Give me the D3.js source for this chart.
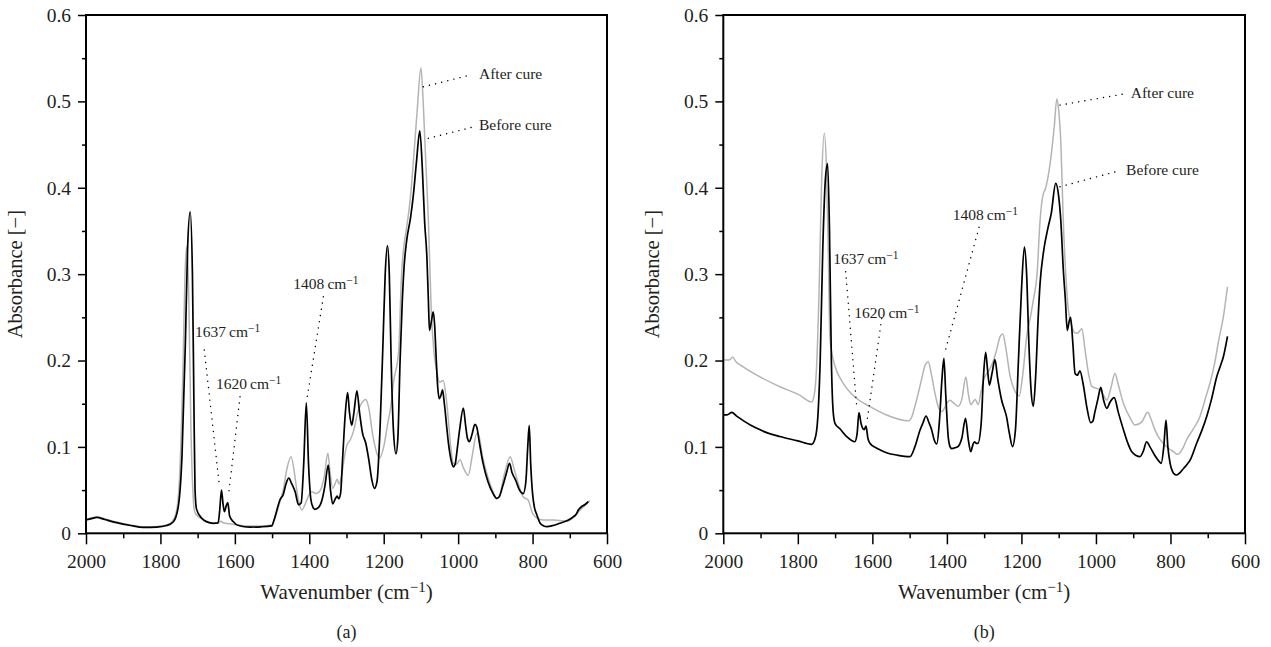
<!DOCTYPE html>
<html><head><meta charset="utf-8">
<script src="https://cdn.jsdelivr.net/npm/d3@7"></script>
<style>body{margin:0;background:#fff}svg{display:block}text{font-family:"Liberation Serif","Times New Roman",serif;fill:#231f20}</style>
</head><body>
<script>
// ---------- DATA ----------
const xTicks = [2000,1800,1600,1400,1200,1000,800,600];
const xMinor = [1900,1700,1500,1300,1100,900,700];
const yTicks = [0,0.1,0.2,0.3,0.4,0.5,0.6];
const yMinor = [0.05,0.15,0.25,0.35,0.45,0.55];

// Panel (a) before cure (black)
const aBeforeWave = [2000,1985,1971,1950,1918,1880,1846,1810,1783,1765,1752,1742,1733,1727,1720,1714,1710,1707,1703,1690,1676,1657,1645,1641,1636,1632,1628,1623,1619,1614,1604,1590,1560,1530,1501,1495,1487,1479,1470,1462,1455,1448,1438,1429,1422,1415,1408,1402,1396,1390,1385,1375,1365,1358,1349,1343,1337,1330,1325,1321,1316,1310,1303,1297,1292,1286,1280,1272,1265,1257,1248,1240,1232,1225,1218,1210,1202,1196,1190,1185,1180,1174,1167,1162,1156,1150,1145,1138,1128,1120,1112,1103,1096,1090,1084,1080,1077,1072,1067,1063,1060,1055,1051,1046,1042,1037,1030,1026,1018,1013,1008,1004,996,986,980,975,970,963,955,950,943,933,920,905,897,890,880,870,862,855,846,835,825,818,813,809,805,800,795,789,780,770,762,745,727,705,691,683,677,668,660,650];
const aBeforeAbs = [0.0154,0.017,0.0185,0.016,0.0123,0.009,0.0068,0.0072,0.009,0.0134,0.031,0.09,0.22,0.33,0.372,0.3,0.15,0.05,0.028,0.018,0.0135,0.0116,0.012,0.025,0.050,0.035,0.025,0.032,0.0354,0.02,0.0134,0.009,0.0072,0.0075,0.0085,0.015,0.027,0.0385,0.045,0.058,0.064,0.058,0.048,0.033,0.035,0.08,0.151,0.08,0.04,0.03,0.0278,0.03,0.04,0.055,0.079,0.05,0.034,0.04,0.043,0.04,0.046,0.09,0.14,0.163,0.14,0.125,0.14,0.165,0.14,0.116,0.104,0.085,0.062,0.052,0.06,0.12,0.22,0.3,0.333,0.3,0.2,0.12,0.092,0.11,0.2,0.27,0.31,0.34,0.365,0.393,0.43,0.466,0.42,0.36,0.32,0.27,0.235,0.245,0.2565,0.24,0.212,0.17,0.156,0.16,0.166,0.15,0.12,0.104,0.083,0.077,0.08,0.092,0.12,0.145,0.125,0.11,0.106,0.114,0.126,0.123,0.105,0.081,0.06,0.045,0.0405,0.042,0.055,0.07,0.081,0.07,0.062,0.05,0.046,0.06,0.1,0.125,0.08,0.046,0.03,0.022,0.012,0.0085,0.0077,0.009,0.0116,0.015,0.019,0.022,0.027,0.031,0.033,0.0366];

// Panel (a) after cure (grey)
const aAfterWave = [2000,1985,1971,1950,1918,1880,1846,1810,1783,1765,1755,1748,1740,1733,1729,1724,1718,1713,1708,1700,1690,1676,1657,1645,1637,1630,1615,1600,1560,1530,1501,1490,1480,1470,1460,1449,1440,1430,1420,1410,1400,1393,1382,1370,1360,1350,1344,1337,1330,1325,1320,1312,1305,1299,1290,1280,1270,1260,1249,1240,1230,1220,1212,1200,1190,1180,1174,1160,1152,1145,1138,1128,1120,1110,1100,1094,1088,1080,1072,1065,1058,1050,1040,1033,1026,1020,1013,1005,995,985,973,962,950,945,935,920,905,897,888,875,860,850,840,825,812,800,785,771,744,720,708,690,672,660,646];
const aAfterAbs = [0.016,0.018,0.019,0.017,0.013,0.0095,0.0075,0.008,0.0095,0.016,0.03,0.07,0.18,0.31,0.332,0.28,0.12,0.05,0.025,0.02,0.017,0.013,0.0115,0.012,0.014,0.012,0.011,0.01,0.0085,0.0085,0.0095,0.02,0.035,0.05,0.075,0.0887,0.07,0.04,0.027,0.035,0.045,0.048,0.046,0.05,0.065,0.0926,0.07,0.052,0.058,0.0625,0.057,0.07,0.09,0.102,0.108,0.12,0.14,0.15,0.155,0.145,0.115,0.095,0.087,0.1,0.125,0.15,0.174,0.21,0.3,0.335,0.355,0.39,0.432,0.49,0.539,0.5,0.44,0.363,0.255,0.21,0.189,0.175,0.177,0.16,0.13,0.1,0.081,0.08,0.085,0.075,0.067,0.09,0.1157,0.114,0.09,0.065,0.047,0.04,0.045,0.07,0.0887,0.075,0.06,0.042,0.0385,0.023,0.017,0.0154,0.0154,0.0145,0.014,0.018,0.027,0.032,0.038];

// Panel (b) before cure (black)
const bBeforeWave = [2000,1990,1977,1965,1955,1930,1910,1880,1848,1800,1763,1755,1748,1740,1733,1726,1720,1715,1710,1705,1700,1687,1669,1647,1641,1636,1630,1622,1617,1612,1606,1590,1579,1560,1535,1499,1486,1472,1464,1456,1448,1441,1434,1427,1420,1413,1408,1403,1396,1390,1387,1378,1369,1360,1350,1343,1336,1330,1326,1321,1317,1308,1302,1296,1291,1286,1279,1271,1264,1253,1240,1232,1224,1216,1208,1200,1192,1186,1180,1174,1168,1162,1155,1150,1141,1128,1120,1108,1100,1094,1088,1082,1077,1072,1068,1062,1056,1050,1043,1034,1024,1014,1008,1003,995,987,980,971,962,951,940,926,915,904,892,882,873,864,855,842,830,825,818,812,807,801,795,788,783,775,765,755,747,730,715,703,690,676,665,658,647];
const bBeforeAbs = [0.137,0.137,0.14,0.136,0.133,0.126,0.1215,0.116,0.112,0.107,0.103,0.108,0.125,0.2,0.33,0.41,0.428,0.35,0.2,0.14,0.127,0.121,0.112,0.106,0.115,0.1396,0.1265,0.12,0.124,0.11,0.104,0.099,0.0965,0.093,0.0906,0.0887,0.1,0.1196,0.128,0.1358,0.128,0.12,0.108,0.1034,0.13,0.18,0.2025,0.16,0.11,0.099,0.098,0.099,0.101,0.11,0.133,0.11,0.0945,0.103,0.106,0.104,0.104,0.127,0.18,0.2095,0.19,0.1716,0.185,0.201,0.18,0.154,0.135,0.115,0.1003,0.12,0.2,0.28,0.3317,0.3,0.22,0.165,0.147,0.18,0.25,0.289,0.325,0.355,0.37,0.405,0.39,0.36,0.3086,0.27,0.235,0.245,0.25,0.22,0.185,0.183,0.188,0.172,0.145,0.128,0.13,0.14,0.155,0.169,0.155,0.1447,0.152,0.157,0.14,0.1196,0.105,0.0945,0.09,0.0887,0.095,0.106,0.1,0.09,0.083,0.081,0.1,0.131,0.1,0.081,0.072,0.068,0.0675,0.07,0.075,0.08,0.085,0.104,0.12,0.135,0.155,0.181,0.195,0.2044,0.228];

// Panel (b) after cure (grey)
const bAfterWave = [2000,1985,1975,1965,1955,1910,1848,1795,1763,1756,1750,1743,1736,1729,1723,1718,1714,1707,1700,1678,1642,1606,1562,1503,1494,1486,1478,1467,1458,1450,1442,1432,1422,1414,1405,1398,1392,1380,1370,1360,1349,1342,1336,1330,1324,1316,1308,1302,1293,1284,1275,1265,1257,1250,1242,1230,1218,1206,1196,1186,1176,1168,1158,1150,1141,1137,1123,1112,1105,1100,1094,1088,1081,1074,1065,1056,1048,1038,1029,1020,1011,1000,989,980,971,960,949,940,926,910,895,877,861,852,842,830,819,801,790,783,775,765,757,740,721,705,694,680,672,658,647];
const bAfterAbs = [0.2006,0.2006,0.2037,0.198,0.195,0.183,0.1697,0.16,0.152,0.16,0.19,0.28,0.41,0.463,0.42,0.32,0.2275,0.205,0.193,0.1736,0.156,0.1466,0.137,0.1303,0.135,0.1466,0.16,0.18,0.195,0.1986,0.185,0.162,0.145,0.1408,0.146,0.152,0.154,0.15,0.147,0.155,0.181,0.16,0.149,0.152,0.155,0.149,0.165,0.177,0.185,0.191,0.2,0.215,0.228,0.2307,0.215,0.181,0.165,0.159,0.185,0.2275,0.25,0.27,0.3,0.362,0.3935,0.397,0.428,0.47,0.5027,0.49,0.45,0.366,0.3,0.2585,0.24,0.232,0.232,0.237,0.2115,0.185,0.17,0.168,0.166,0.16,0.154,0.168,0.185,0.172,0.15,0.135,0.1253,0.129,0.14,0.132,0.12,0.11,0.104,0.097,0.094,0.0914,0.093,0.1,0.108,0.12,0.135,0.158,0.174,0.2,0.22,0.2507,0.2854];

// Annotation labels (anchored in data coordinates)
const annLabels = ["After cure","Before cure","1408","1637","1620"];

// ---------- LAYOUT ----------
const W = 1271, H = 647;
const svg = d3.select("body").append("svg").attr("width", W).attr("height", H);

const panels = [
  {left:86, right:607, tag:"(a)",
   before:[aBeforeWave,aBeforeAbs], after:[aAfterWave,aAfterAbs],
   ann:[
     {t:annLabels[0], tx:944, ty:0.5258, l:[1093.6,0.5169,968.1,0.5304]},
     {t:annLabels[1], tx:944, ty:0.4667, l:[1080.2,0.4572,950.1,0.4714]},
     {t:annLabels[2], cm:true, tx:1443, ty:0.2824, l:[1362.3,0.2738,1406.9,0.1543]},
     {t:annLabels[3], cm:true, tx:1707.1, ty:0.2269, l:[1682.1,0.2122,1641.8,0.0559]},
     {t:annLabels[4], cm:true, tx:1650.7, ty:0.1667, l:[1586.2,0.1581,1617.6,0.0424]}
   ]},
  {left:723.3, right:1245, tag:"(b)",
   before:[bBeforeWave,bBeforeAbs], after:[bAfterWave,bAfterAbs],
   ann:[
     {t:annLabels[0], tx:906.6, ty:0.5035, l:[1096.4,0.4957,915.7,0.5093]},
     {t:annLabels[1], tx:919.2, ty:0.4147, l:[1096.4,0.4012,937.2,0.4197]},
     {t:annLabels[2], cm:true, tx:1384.3, ty:0.3626, l:[1313.7,0.3542,1405,0.2102]},
     {t:annLabels[3], cm:true, tx:1704.8, ty:0.3113, l:[1671.5,0.3028,1642,0.1465]},
     {t:annLabels[4], cm:true, tx:1648.4, ty:0.2488, l:[1574.9,0.2488,1615.1,0.1273]}
   ]}
];
const plotTop = 15, plotBottom = 533.3;

panels.forEach(p => {
  const x = d3.scaleLinear().domain([2000,600]).range([p.left, p.right]);
  const y = d3.scaleLinear().domain([0,0.6]).range([plotBottom, plotTop]);
  const g = svg.append("g");

  // curves
  const line = d3.line().x(d => x(d[0])).y(d => y(d[1])).curve(d3.curveMonotoneX);
  const zip = (a) => a[0].map((w,i) => [w, a[1][i]]);
  g.append("path").datum(zip(p.after)).attr("d", line)
    .attr("fill","none").attr("stroke","#b4b4b4").attr("stroke-width",1.5);
  g.append("path").datum(zip(p.before)).attr("d", line)
    .attr("fill","none").attr("stroke","#000").attr("stroke-width",1.7);

  // axes
  const yAx = g.append("g").attr("transform",`translate(${p.left},0)`)
    .call(d3.axisLeft(y).tickValues(yTicks).tickSize(8).tickPadding(7)
      .tickFormat(d => d === 0 ? "0" : d3.format(".1f")(d)));
  const yAxMin = g.append("g").attr("transform",`translate(${p.left},0)`)
    .call(d3.axisLeft(y).tickValues(yMinor).tickSize(4).tickFormat(""));
  const xAx = g.append("g").attr("transform",`translate(0,${plotBottom})`)
    .call(d3.axisBottom(x).tickValues(xTicks).tickSize(11).tickPadding(10).tickFormat(d3.format("d")));
  const xAxMin = g.append("g").attr("transform",`translate(0,${plotBottom})`)
    .call(d3.axisBottom(x).tickValues(xMinor).tickSize(5).tickFormat(""));
  [yAx,yAxMin,xAx,xAxMin].forEach(a => {
    a.select(".domain").remove();
    a.selectAll("line").attr("stroke","#000").attr("stroke-width",1.5);
    a.selectAll("text").style("font-family",'"Liberation Serif",serif').style("font-size","19.5px").attr("fill","#231f20");
  });

  // frame
  g.append("rect").attr("x",p.left).attr("y",plotTop).attr("width",p.right-p.left).attr("height",plotBottom-plotTop)
    .attr("fill","none").attr("stroke","#000").attr("stroke-width",2);

  // annotations
  p.ann.forEach(a => {
    g.append("line").attr("x1",x(a.l[0])).attr("y1",y(a.l[1])).attr("x2",x(a.l[2])).attr("y2",y(a.l[3]))
      .attr("stroke","#000").attr("stroke-width",1.4).attr("stroke-dasharray","0.1,6.2").attr("stroke-linecap","round");
    const t = g.append("text").attr("x",x(a.tx)).attr("y",y(a.ty)).style("font-size","15.5px");
    if (a.cm) {
      t.append("tspan").text(a.t + "\u2009cm");
      t.append("tspan").attr("dy","-0.45em").style("font-size","11.5px").text("\u22121");
    } else {
      t.text(a.t);
    }
  });

  // axis titles
  const cx = (p.left + p.right)/2;
  const xt = g.append("text").attr("x",cx).attr("y",599).attr("text-anchor","middle").style("font-size","21px");
  xt.append("tspan").text("Wavenumber (cm");
  xt.append("tspan").attr("dy","-0.45em").style("font-size","15px").text("\u22121");
  xt.append("tspan").attr("dy","0.33em").text(")");
  g.append("text").attr("transform",`translate(${p.left-64},${(plotTop+plotBottom)/2}) rotate(-90)`)
    .attr("text-anchor","middle").style("font-size","20.5px").text("Absorbance [\u2212]");
  g.append("text").attr("x",cx).attr("y",638).attr("text-anchor","middle").style("font-size","18px").text(p.tag);
});
</script>
</body></html>
